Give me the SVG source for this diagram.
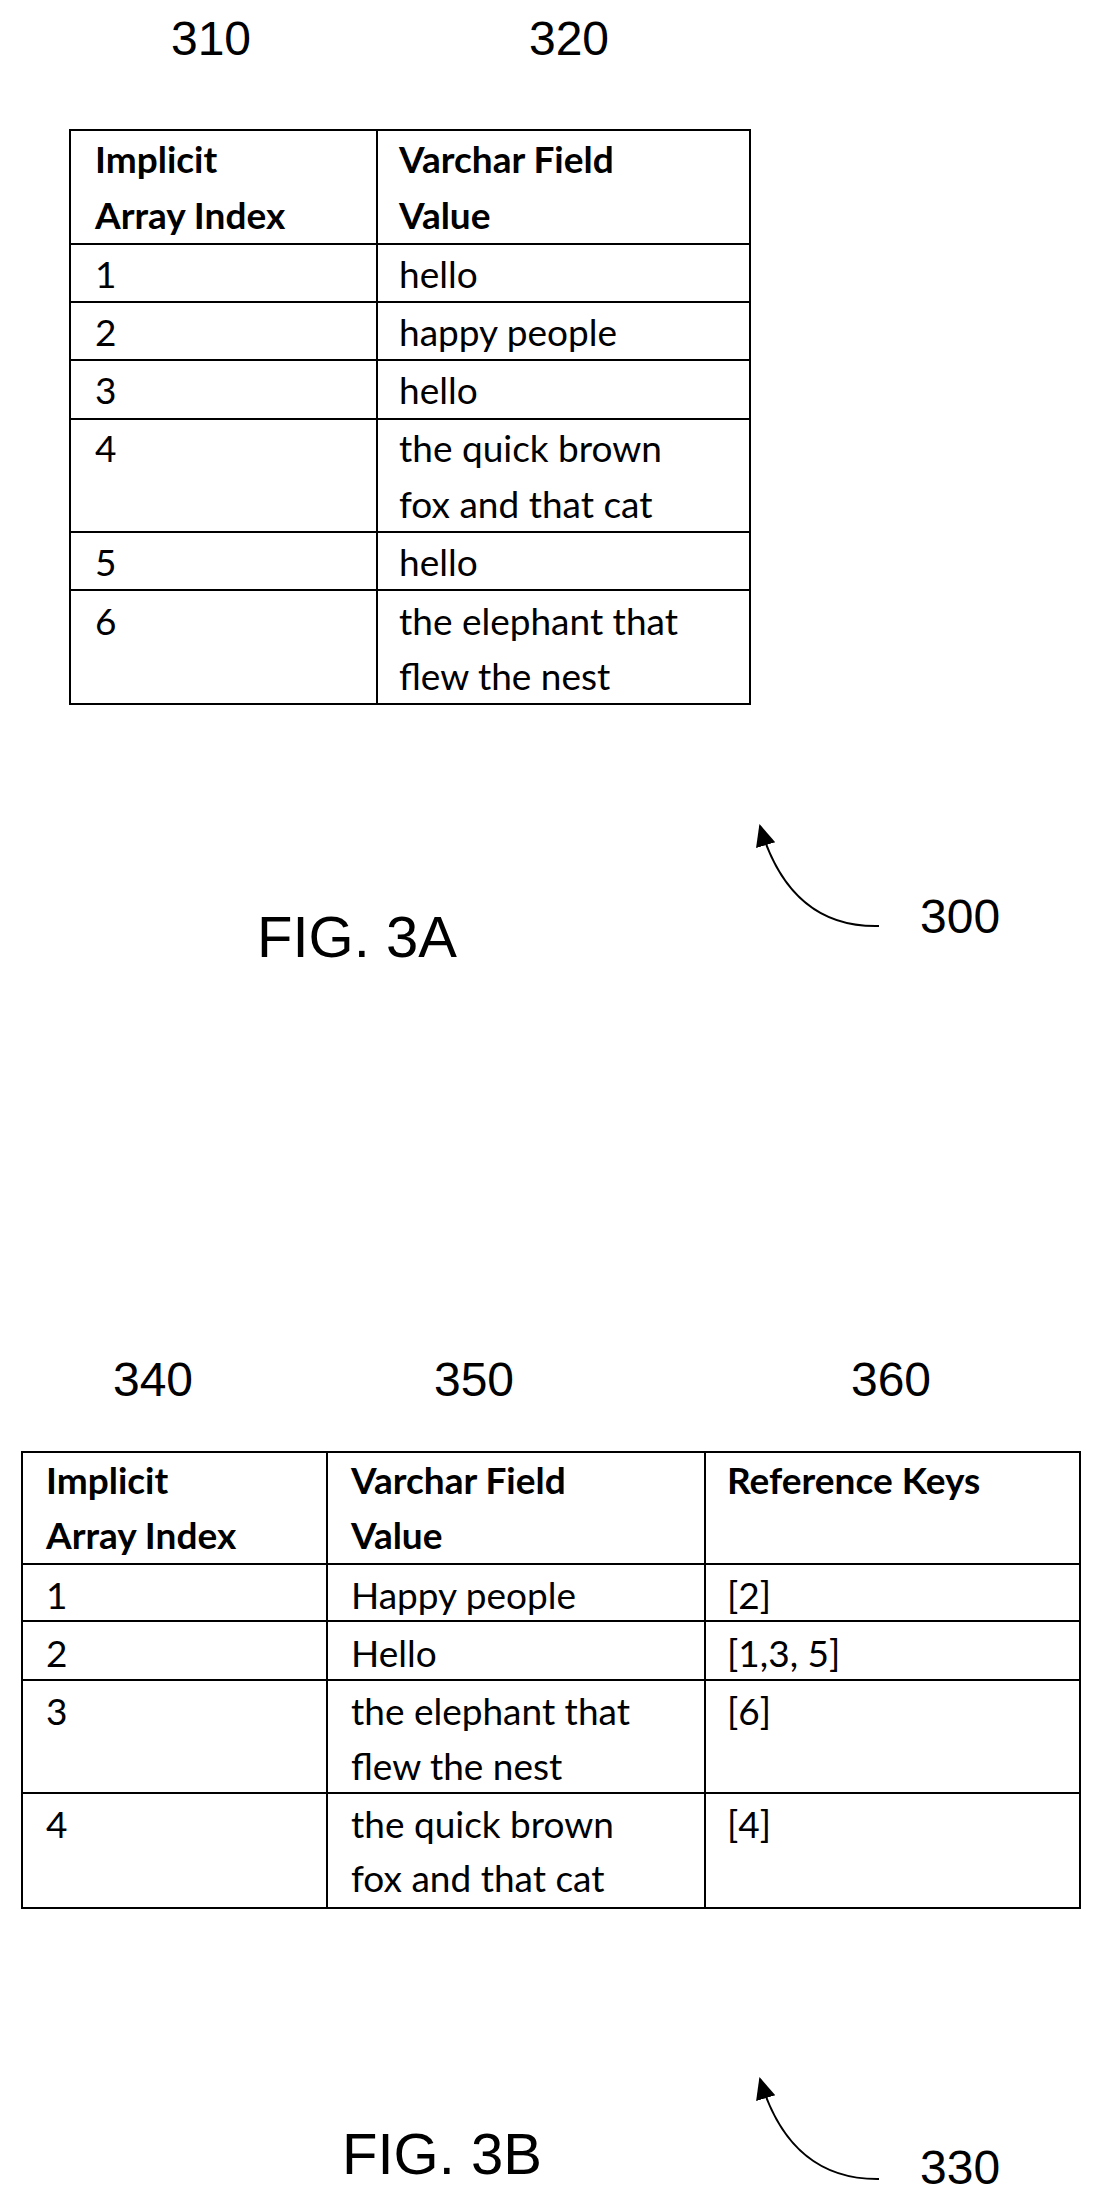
<svg xmlns="http://www.w3.org/2000/svg" width="1098" height="2203" viewBox="0 0 1098 2203">
<style>
.num{font-family:"Liberation Sans",Arial,sans-serif;font-size:48px;fill:#000}
.fig{font-family:"Liberation Sans",Arial,sans-serif;font-size:58px;fill:#000}
.t{font-family:Lato,"Open Sans",sans-serif;font-size:37px;fill:#000}
.h{font-family:Lato,"Open Sans",sans-serif;font-size:37px;font-weight:bold;fill:#000}
.g{fill:none;stroke:#000;stroke-width:2}
.c{fill:none;stroke:#000;stroke-width:2}
</style>
<defs><marker id="ah" markerWidth="10" markerHeight="10" refX="8" refY="5" orient="auto" markerUnits="userSpaceOnUse" viewBox="0 0 10 10"><path d="M0,0 L10,5 L0,10 Z" fill="#000" transform="scale(1)"/></marker>
<marker id="a2" markerWidth="24" markerHeight="24" refX="20" refY="12" orient="auto" markerUnits="userSpaceOnUse"><path d="M0,2 L22,12 L0,22 Z" fill="#000"/></marker></defs>
<g id="fig3a">
<text class="num" x="211" y="55" text-anchor="middle">310</text>
<text class="num" x="569" y="55" text-anchor="middle">320</text>
<g id="table3a" class="g">
<rect x="70" y="130" width="680" height="574"/>
<line x1="377" y1="130" x2="377" y2="704"/>
<line x1="70" y1="244" x2="750" y2="244"/>
<line x1="70" y1="302" x2="750" y2="302"/>
<line x1="70" y1="360" x2="750" y2="360"/>
<line x1="70" y1="419" x2="750" y2="419"/>
<line x1="70" y1="532" x2="750" y2="532"/>
<line x1="70" y1="590" x2="750" y2="590"/>
</g>
<text class="h" x="95" y="173">Implicit</text>
<text class="h" x="95" y="229">Array Index</text>
<text class="h" x="399" y="173">Varchar Field</text>
<text class="h" x="399" y="229">Value</text>
<text class="t" x="95" y="288">1</text><text class="t" x="399" y="288">hello</text>
<text class="t" x="95" y="346">2</text><text class="t" x="399" y="346">happy people</text>
<text class="t" x="95" y="404">3</text><text class="t" x="399" y="404">hello</text>
<text class="t" x="95" y="462">4</text><text class="t" x="399" y="462">the quick brown</text><text class="t" x="399" y="518">fox and that cat</text>
<text class="t" x="95" y="576">5</text><text class="t" x="399" y="576">hello</text>
<text class="t" x="95" y="635">6</text><text class="t" x="399" y="635">the elephant that</text><text class="t" x="399" y="690">flew the nest</text>
<text class="fig" x="257" y="957">FIG. 3A</text>
<text class="num" x="920" y="933">300</text>
</g>
<g id="fig3b">
<text class="num" x="153" y="1396" text-anchor="middle">340</text>
<text class="num" x="474" y="1396" text-anchor="middle">350</text>
<text class="num" x="891" y="1396" text-anchor="middle">360</text>
<g id="table3b" class="g">
<rect x="22" y="1452" width="1058" height="456"/>
<line x1="327" y1="1452" x2="327" y2="1908"/>
<line x1="705" y1="1452" x2="705" y2="1908"/>
<line x1="22" y1="1564" x2="1080" y2="1564"/>
<line x1="22" y1="1621" x2="1080" y2="1621"/>
<line x1="22" y1="1680" x2="1080" y2="1680"/>
<line x1="22" y1="1793" x2="1080" y2="1793"/>
</g>
<text class="h" x="46" y="1494">Implicit</text>
<text class="h" x="46" y="1549">Array Index</text>
<text class="h" x="351" y="1494">Varchar Field</text>
<text class="h" x="351" y="1549">Value</text>
<text class="h" x="727" y="1494">Reference Keys</text>
<text class="t" x="46" y="1609">1</text><text class="t" x="351" y="1609">Happy people</text><text class="t" x="727" y="1609">[2]</text>
<text class="t" x="46" y="1667">2</text><text class="t" x="351" y="1667">Hello</text><text class="t" x="727" y="1667">[1,3, 5]</text>
<text class="t" x="46" y="1725">3</text><text class="t" x="351" y="1725">the elephant that</text><text class="t" x="351" y="1780">flew the nest</text><text class="t" x="727" y="1725">[6]</text>
<text class="t" x="46" y="1838">4</text><text class="t" x="351" y="1838">the quick brown</text><text class="t" x="351" y="1892">fox and that cat</text><text class="t" x="727" y="1838">[4]</text>
<text class="fig" x="342" y="2174">FIG. 3B</text>
<text class="num" x="920" y="2184">330</text>
</g>
<g id="connectors">
<path class="c" d="M879,926 Q790,928 760,826" marker-end="url(#a2)"/>
<path class="c" d="M879,2179 Q790,2180 760,2079" marker-end="url(#a2)"/>
</g>
</svg>
